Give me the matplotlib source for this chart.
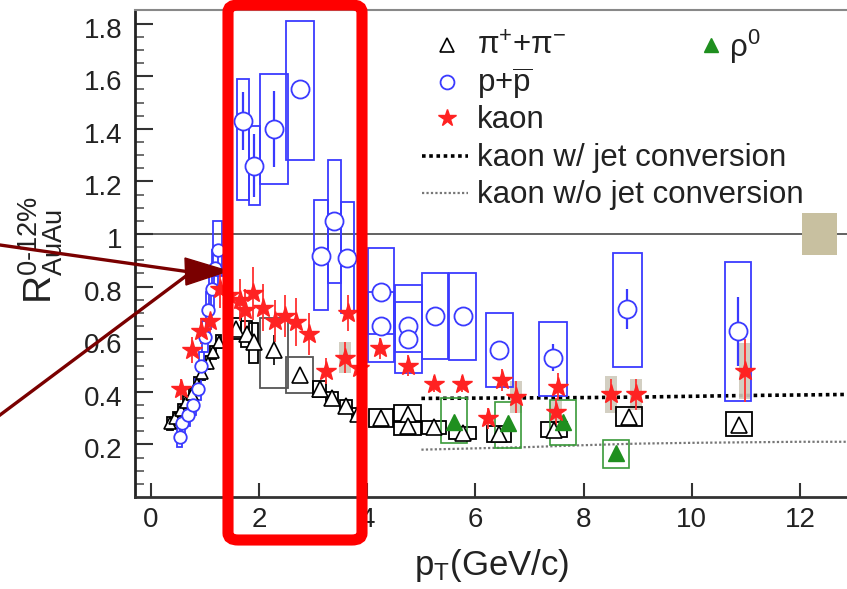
import numpy as np
import matplotlib
matplotlib.use("Agg")
import matplotlib.pyplot as plt
from matplotlib.patches import Rectangle, FancyBboxPatch, Polygon
from matplotlib.lines import Line2D
import matplotlib.transforms as mtransforms

plt.rcParams['font.family'] = ['Liberation Sans', 'DejaVu Sans']
plt.rcParams['mathtext.fontset'] = 'custom'
plt.rcParams['mathtext.rm'] = 'Liberation Sans'
plt.rcParams['mathtext.it'] = 'Liberation Sans:italic'
plt.rcParams['mathtext.bf'] = 'Liberation Sans:bold'

# ---------------- data ----------------
# charged pions
pi_x = [0.35, 0.45, 0.55, 0.65, 0.75, 0.85, 0.95, 1.05, 1.15, 1.25,
        1.58, 1.77, 1.90, 2.27, 2.75, 3.12, 3.35, 3.60, 3.82,
        4.25, 4.75, 4.75, 5.24, 5.76, 6.44, 7.45, 8.83, 10.87]
pi_y = [0.28, 0.30, 0.33, 0.36, 0.39, 0.43, 0.47, 0.51, 0.55, 0.59,
        0.64, 0.62, 0.59, 0.56, 0.465, 0.41, 0.375, 0.345, 0.315,
        0.30, 0.315, 0.27, 0.265, 0.245, 0.24, 0.255, 0.305, 0.275]
pi_err = [0.01, 0.01, 0.01, 0.01, 0.01, 0.01, 0.01, 0.01, 0.01, 0.01,
          0.02, 0.02, 0.03, 0.057, 0.02, 0.01, 0.01, 0.01, 0.01,
          0.01, 0.01, 0.01, 0.01, 0.01, 0.01, 0.01, 0.02, 0.02]
pi_box_lo = [0.255, 0.275, 0.305, 0.335, 0.365, 0.405, 0.445, 0.485, 0.525, 0.565,
             0.60, 0.57, 0.51, 0.414, 0.394, 0.38, 0.35, 0.32, 0.29,
             0.265, 0.285, 0.235, 0.24, 0.22, 0.21, 0.23, 0.27, 0.232]
pi_box_hi = [0.305, 0.325, 0.355, 0.385, 0.415, 0.455, 0.495, 0.535, 0.575, 0.615,
             0.68, 0.67, 0.66, 0.68, 0.533, 0.44, 0.40, 0.37, 0.34,
             0.335, 0.35, 0.29, 0.29, 0.265, 0.27, 0.285, 0.343, 0.324]
pi_box_hw = [0.05, 0.05, 0.05, 0.05, 0.05, 0.05, 0.05, 0.05, 0.05, 0.05,
             0.08, 0.10, 0.08, 0.26, 0.25, 0.12, 0.11, 0.11, 0.11,
             0.22, 0.25, 0.25, 0.22, 0.25, 0.22, 0.24, 0.24, 0.24]

# protons + antiprotons
p_x = [0.53, 0.58, 0.68, 0.78, 0.87, 0.93, 1.00, 1.06, 1.12, 1.18, 1.23,
       1.70, 1.91, 2.27, 2.75, 3.14, 3.39, 3.63,
       4.26, 4.26, 4.76, 4.76, 5.26, 5.76, 6.44, 7.44, 8.81, 10.85]
p_y = [0.23, 0.28, 0.31, 0.35, 0.41, 0.50, 0.61, 0.71, 0.79, 0.87, 0.94,
       1.43, 1.26, 1.40, 1.55, 0.915, 1.05, 0.91,
       0.78, 0.65, 0.65, 0.60, 0.69, 0.69, 0.56, 0.53, 0.715, 0.63]
p_err = [0.02, 0.02, 0.02, 0.02, 0.02, 0.02, 0.02, 0.02, 0.02, 0.02, 0.02,
         0.11, 0.12, 0.145, 0.03, 0.03, 0.03, 0.03,
         0.02, 0.02, 0.02, 0.02, 0.02, 0.02, 0.02, 0.05, 0.076, 0.13]
p_box_lo = [0.19, 0.24, 0.27, 0.31, 0.37, 0.45, 0.55, 0.64, 0.72, 0.80, 0.84,
            1.13, 1.11, 1.19, 1.28, 0.71, 0.815, 0.70,
            0.62, 0.515, 0.55, 0.47, 0.524, 0.52, 0.417, 0.385, 0.495, 0.366]
p_box_hi = [0.27, 0.32, 0.35, 0.39, 0.45, 0.55, 0.67, 0.78, 0.86, 0.94, 1.05,
            1.59, 1.41, 1.61, 1.81, 1.13, 1.28, 1.12,
            0.946, 0.78, 0.806, 0.743, 0.85, 0.85, 0.70, 0.667, 0.929, 0.892]
p_box_hw = [0.05, 0.05, 0.05, 0.05, 0.05, 0.05, 0.05, 0.05, 0.05, 0.05, 0.09,
            0.11, 0.10, 0.26, 0.255, 0.13, 0.125, 0.115,
            0.24, 0.24, 0.255, 0.255, 0.24, 0.255, 0.245, 0.26, 0.26, 0.24]

# kaons
k_x = [0.55, 0.75, 0.93, 1.09, 1.27, 1.45, 1.64, 1.73, 1.89, 2.07, 2.29, 2.47,
       2.69, 2.93, 3.24, 3.58, 3.64, 3.85, 4.24, 4.75, 5.24, 5.75, 6.24, 6.49,
       6.75, 7.49, 7.52, 8.50, 8.97, 10.99]
k_y = [0.41, 0.56, 0.63, 0.67, 0.79, 0.77, 0.75, 0.71, 0.775, 0.72, 0.67, 0.69,
       0.665, 0.62, 0.48, 0.53, 0.70, 0.49, 0.565, 0.50, 0.43, 0.43, 0.30, 0.445,
       0.38, 0.325, 0.42, 0.39, 0.39, 0.48]
k_err = [0.04, 0.05, 0.05, 0.06, 0.07, 0.08, 0.08, 0.08, 0.10, 0.09, 0.08, 0.08,
         0.09, 0.08, 0.05, 0.06, 0.07, 0.05, 0.04, 0.04, 0.03, 0.03, 0.04, 0.04,
         0.06, 0.05, 0.05, 0.06, 0.06, 0.12]
k_sys = [0, 0, 0, 0, 0, 0, 0, 0, 0, 0, 0, 0,
         0, 0, 0, 0.06, 0, 0, 0, 0, 0, 0, 0, 0,
         0.06, 0.04, 0, 0.07, 0.06, 0.107]

# rho0
rho_x = [5.60, 6.60, 7.62, 8.59]
rho_y = [0.286, 0.28, 0.286, 0.166]
rho_box_lo = [0.204, 0.185, 0.198, 0.109]
rho_box_hi = [0.375, 0.362, 0.369, 0.217]

# model curves for kaons
jet_x = [5.0, 6.0, 7.0, 8.0, 9.0, 10.0, 11.0, 12.0, 12.9]
jet_y = [0.375, 0.376, 0.377, 0.378, 0.380, 0.383, 0.386, 0.388, 0.390]
nojet_x = [5.0, 6.0, 7.0, 8.0, 9.0, 10.0, 11.0, 12.0, 12.9]
nojet_y = [0.180, 0.185, 0.190, 0.197, 0.203, 0.206, 0.208, 0.210, 0.210]

# global normalisation uncertainty
norm_x = 12.36
norm_unc = 0.08

# ---------------- figure ----------------
W, H = 847, 589
fig = plt.figure(figsize=(W / 100, H / 100), dpi=100)
ax = fig.add_axes([135 / W, 1 - 497 / H, (W - 135) / W, (497 - 10) / H])
ax.set_xlim(-0.296, 12.87)
ax.set_ylim(0.0, 1.852)

def fx(px):
    return px / W

def fy(py):
    return 1 - py / H

# reference line at unity
ax.axhline(1.0, color='#555555', lw=1.3, zorder=1)
ax.add_patch(Rectangle((norm_x - 0.33, 1 - norm_unc), 0.66, 2 * norm_unc,
                       facecolor='#c8c0a0', edgecolor='none', zorder=1))

# model lines
ax.plot(jet_x, jet_y, color='black', lw=2.6, ls=(0, (1, 1)), zorder=2)
ax.plot(nojet_x, nojet_y, color='#777777', lw=1.6, ls=(0, (1, 1)), zorder=2)

# systematic boxes
for x, lo, hi, hw in zip(pi_x, pi_box_lo, pi_box_hi, pi_box_hw):
    c = '#555555' if (hw > 0.2 and x < 3) else 'black'
    ax.add_patch(Rectangle((x - hw, lo), 2 * hw, hi - lo, fill=False,
                           edgecolor=c, lw=1.3, zorder=3))
for x, lo, hi, hw in zip(p_x, p_box_lo, p_box_hi, p_box_hw):
    ax.add_patch(Rectangle((x - hw, lo), 2 * hw, hi - lo, fill=False,
                           edgecolor='#3a3aff', lw=1.3, zorder=3))
for x, lo, hi in zip(rho_x, rho_box_lo, rho_box_hi):
    ax.add_patch(Rectangle((x - 0.24, lo), 0.48, hi - lo, fill=False,
                           edgecolor='#3a9a3a', lw=1.2, zorder=3))
for x, y, s in zip(k_x, k_y, k_sys):
    if s > 0:
        ax.add_patch(Rectangle((x - 0.11, y - s), 0.22, 2 * s,
                               facecolor='#cfcabc', edgecolor='none', alpha=0.9, zorder=2.5))

# error bars
ax.errorbar(pi_x, pi_y, yerr=pi_err, fmt='none', ecolor='black', elinewidth=1.2, zorder=4)
ax.errorbar(p_x, p_y, yerr=p_err, fmt='none', ecolor='#3a3aff', elinewidth=1.6, zorder=4)
ax.errorbar(k_x, k_y, yerr=k_err, fmt='none', ecolor='#ff3030', elinewidth=1.3, zorder=5)

# markers
pi_x_a = np.array(pi_x)
pi_y_a = np.array(pi_y)
lowp = pi_x_a < 1.5
ax.plot(pi_x_a[lowp], pi_y_a[lowp], ls='none', marker='^', ms=8, mfc='white',
        mec='black', mew=1.2, zorder=6)
ax.plot(pi_x_a[~lowp], pi_y_a[~lowp], ls='none', marker='^', ms=12, mfc='white',
        mec='black', mew=1.2, zorder=6)
p_x_a = np.array(p_x)
p_y_a = np.array(p_y)
lowp = p_x_a < 1.5
ax.plot(p_x_a[lowp], p_y_a[lowp], ls='none', marker='o', ms=9, mfc='white',
        mec='#3a3aff', mew=1.3, zorder=6)
ax.plot(p_x_a[~lowp], p_y_a[~lowp], ls='none', marker='o', ms=13, mfc='white',
        mec='#3a3aff', mew=1.3, zorder=6)
ax.plot(rho_x, rho_y, ls='none', marker='^', ms=11, color='#1f8f1f', zorder=6)
ax.plot(k_x, k_y, ls='none', marker='*', ms=15, color='#ff2222', mec='#ff2222', zorder=7)

# axes styling
ax.spines['right'].set_visible(False)
ax.spines['top'].set_color('#888888')
ax.spines['top'].set_linewidth(1.5)
ax.spines['left'].set_linewidth(2.0)
ax.spines['bottom'].set_linewidth(2.0)
ax.spines['left'].set_color('#222222')
ax.spines['bottom'].set_color('#333333')

ax.set_xticks([0, 2, 4, 6, 8, 10, 12])
ax.set_xticklabels(['0', '2', '4', '6', '8', '10', '12'])
ax.set_yticks([0.2, 0.4, 0.6, 0.8, 1.0, 1.2, 1.4, 1.6, 1.8])
ax.set_yticklabels(['0.2', '0.4', '0.6', '0.8', '1', '1.2', '1.4', '1.6', '1.8'])
ax.set_yticks(np.arange(0.05, 1.85, 0.05), minor=True)
ax.tick_params(axis='both', which='major', direction='in', labelsize=20,
               labelcolor='#222222', color='#333333', width=1.5)
ax.tick_params(axis='x', which='major', length=10, pad=7)
ax.tick_params(axis='y', which='major', length=13, pad=9)
ax.tick_params(axis='y', which='minor', direction='in', length=6.5, width=1.2,
               color='#555555')
ax.tick_params(axis='x', which='minor', bottom=False)

shift = mtransforms.ScaledTranslation(0, -4 / 100, fig.dpi_scale_trans)
for lab in ax.get_yticklabels():
    lab.set_transform(lab.get_transform() + shift)

# axis titles
fig.text(fx(492), fy(566), r'p$_{\mathrm{T}}$(GeV/c)', fontsize=25, ha='center',
         va='center', color='#222222')
fig.text(fx(41), fy(250), r'R$^{0\text{-}12\%}_{\mathrm{AuAu}}$', fontsize=28,
         rotation=90, ha='center', va='center', color='#222222')

# legend
rows = [45, 82, 118, 156, 193]
mx = 447
fig.add_artist(Line2D([fx(mx)], [fy(rows[0])], marker='^', ms=10, mfc='white',
                      mec='black', mew=1.2, ls='none'))
fig.add_artist(Line2D([fx(mx)], [fy(rows[1])], marker='o', ms=10, mfc='white',
                      mec='#3a3aff', mew=1.3, ls='none'))
fig.add_artist(Line2D([fx(mx)], [fy(rows[2])], marker='*', ms=13, color='#ff2222',
                      ls='none'))
fig.add_artist(Line2D([fx(422), fx(468)], [fy(rows[3]), fy(rows[3])], color='black',
                      lw=2.6, ls=(0, (1, 1))))
fig.add_artist(Line2D([fx(422), fx(468)], [fy(rows[4]), fy(rows[4])], color='#777777',
                      lw=1.6, ls=(0, (1, 1))))
fig.add_artist(Line2D([fx(711)], [fy(rows[0])], marker='^', ms=10, color='#1f8f1f',
                      ls='none'))
labels = [r'π$^{+}$+π$^{-}$', r'p+$\overline{\mathrm{p}}$', 'kaon',
          'kaon w/ jet conversion', 'kaon w/o jet conversion']
for r, t in zip(rows, labels):
    fig.text(fx(477), fy(r + 2), t, fontsize=22.5, ha='left', va='center', color='#222222')
fig.text(fx(729), fy(rows[0] + 2), r'ρ$^{0}$', fontsize=22.5, ha='left', va='center',
         color='#222222')

# highlight frame
frame = FancyBboxPatch((fx(228), fy(540)), fx(362) - fx(228), fy(5) - fy(540),
                       boxstyle='round,pad=0,rounding_size=0.012',
                       transform=fig.transFigure, fill=False, edgecolor='#ff0000',
                       lw=8, zorder=20)
fig.add_artist(frame)

# arrow pointing at the peak region
arrow_c = '#7a0000'
fig.add_artist(Line2D([fx(0), fx(190)], [fy(245), fy(272)], color=arrow_c, lw=2.4, zorder=19))
fig.add_artist(Line2D([fx(0), fx(190)], [fy(415), fy(273)], color=arrow_c, lw=2.4, zorder=19))
fig.add_artist(Polygon([(fx(185), fy(258)), (fx(186), fy(285)), (fx(228), fy(271))],
                       closed=True, transform=fig.transFigure, facecolor=arrow_c,
                       edgecolor=arrow_c, zorder=19))

fig.savefig('out.png', dpi=100)
